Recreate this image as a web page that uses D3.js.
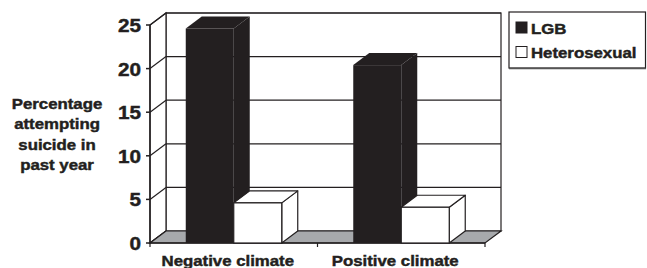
<!DOCTYPE html>
<html>
<head>
<meta charset="utf-8">
<script src="https://cdn.jsdelivr.net/npm/d3@7"></script>
<style>
  body { margin: 0; background: #fff; }
  text { font-family: "Liberation Sans", Arial, sans-serif; font-weight: bold; fill: #231f20;
         stroke: #231f20; stroke-width: 0.45px; }
</style>
</head>
<body>
<div id="chart"></div>
<script>
// data
const categories = ["Negative climate", "Positive climate"];
const seriesNames = ["LGB", "Heterosexual"];
const lgbValues = [24.6, 20.4];
const heteroValues = [4.6, 4.1];
const yTicks = [0, 5, 10, 15, 20, 25];
const yTitle = ["Percentage", "attempting", "suicide in", "past year"];

const W = 647, H = 268;
const dx = 16, dy = -12;      // 3d depth offset
const sx = 1.12;              // horizontal stretch of the text
const dark = "#231f20", floorGrey = "#a7a9ac";

const svg = d3.select("#chart").append("svg")
    .attr("width", W).attr("height", H);

// scales
const x = d3.scaleBand().domain(categories).range([150, 485]);
const xs = d3.scaleBand().domain(seriesNames).range([0, x.bandwidth()]).paddingOuter(0.745);
const y = d3.scaleLinear().domain([0, 25]).range([243, 25]);

const x0 = x.range()[0], x1 = x.range()[1];
const yTop = y(25), yBot = y(0);

// back wall
svg.append("rect")
    .attr("x", x0 + dx).attr("y", yTop + dy)
    .attr("width", x1 - x0).attr("height", yBot - yTop)
    .attr("fill", "#fff").attr("stroke", dark).attr("stroke-width", 1.2);
svg.append("g").selectAll("line").data(yTicks.slice(1)).join("line")
    .attr("x1", x0 + dx).attr("x2", x1 + dx)
    .attr("y1", d => y(d) + dy).attr("y2", d => y(d) + dy)
    .attr("stroke", dark).attr("stroke-width", 1.2);

// left side wall
svg.append("polygon")
    .attr("points", [[x0, yBot], [x0 + dx, yBot + dy], [x0 + dx, yTop + dy], [x0, yTop]].join(" "))
    .attr("fill", "#fff").attr("stroke", dark).attr("stroke-width", 1.2);
svg.append("g").selectAll("line").data(yTicks).join("line")
    .attr("x1", x0).attr("x2", x0 + dx)
    .attr("y1", d => y(d)).attr("y2", d => y(d) + dy)
    .attr("stroke", dark).attr("stroke-width", 1.2);

// floor
svg.append("polygon")
    .attr("points", [[x0, yBot], [x1, yBot], [x1 + dx, yBot + dy], [x0 + dx, yBot + dy]].join(" "))
    .attr("fill", floorGrey).attr("stroke", dark).attr("stroke-width", 1.2);

// front axis + ticks
svg.append("line").attr("x1", x0).attr("x2", x0).attr("y1", yTop).attr("y2", yBot)
    .attr("stroke", dark).attr("stroke-width", 1.5);
svg.append("g").selectAll("line").data(yTicks).join("line")
    .attr("x1", x0 - 4).attr("x2", x0)
    .attr("y1", d => y(d)).attr("y2", d => y(d))
    .attr("stroke", dark).attr("stroke-width", 1.5);
svg.append("line").attr("x1", x0).attr("x2", x1).attr("y1", yBot).attr("y2", yBot)
    .attr("stroke", dark).attr("stroke-width", 1.5);
svg.append("g").selectAll("line").data(categories.map(c => x(c)).concat([x1])).join("line")
    .attr("x1", d => d).attr("x2", d => d)
    .attr("y1", yBot).attr("y2", yBot + 4)
    .attr("stroke", dark).attr("stroke-width", 1.2);

// bars
function bar(g, cat, ser, val, fill) {
    const bx = x(cat) + xs(ser), bw = xs.bandwidth(), by = y(val);
    const line = fill === "#fff" ? dark : "none";
    // side
    g.append("polygon")
        .attr("points", [[bx + bw, by], [bx + bw + dx, by + dy], [bx + bw + dx, yBot + dy], [bx + bw, yBot]].join(" "))
        .attr("fill", fill).attr("stroke", line).attr("stroke-width", 1.2).attr("stroke-linejoin", "round");
    // top
    g.append("polygon")
        .attr("points", [[bx, by], [bx + dx, by + dy], [bx + bw + dx, by + dy], [bx + bw, by]].join(" "))
        .attr("fill", fill).attr("stroke", line).attr("stroke-width", 1.2).attr("stroke-linejoin", "round");
    // front
    g.append("rect")
        .attr("x", bx).attr("y", by).attr("width", bw).attr("height", yBot - by)
        .attr("fill", fill).attr("stroke", line).attr("stroke-width", 1.2);
}
const bars = svg.append("g");
categories.forEach((c, i) => {
    bar(bars, c, "LGB", lgbValues[i], dark);
    bar(bars, c, "Heterosexual", heteroValues[i], "#fff");
});

// y tick labels
svg.append("g").selectAll("text").data(yTicks).join("text")
    .attr("transform", d => `translate(${x0 - 9},${y(d) + 7}) scale(${sx},1)`)
    .attr("text-anchor", "end")
    .style("font-size", "18.5px")
    .text(d => d);

// category labels
svg.append("g").selectAll("text").data(categories).join("text")
    .attr("transform", d => `translate(${x(d) + x.bandwidth() / 2 - 6},265.5) scale(${sx},1)`)
    .attr("text-anchor", "middle")
    .style("font-size", "15px")
    .text(d => d);

// y title
svg.append("g").selectAll("text").data(yTitle).join("text")
    .attr("transform", (d, i) => `translate(57,${108.5 + i * 20.5}) scale(${sx},1)`)
    .attr("text-anchor", "middle")
    .style("font-size", "15px")
    .text(d => d);

// legend
const legend = svg.append("g");
legend.append("rect")
    .attr("x", 509).attr("y", 12).attr("width", 136.5).attr("height", 56)
    .attr("fill", "#fff").attr("stroke", dark).attr("stroke-width", 1.2);
legend.append("line").attr("x1", 509).attr("x2", 646).attr("y1", 68.5).attr("y2", 68.5)
    .attr("stroke", "#555").attr("stroke-width", 1.5);
const legendFill = [dark, "#fff"];
seriesNames.forEach((s, i) => {
    legend.append("rect")
        .attr("x", 516).attr("y", 22 + i * 24.5).attr("width", 11).attr("height", 11)
        .attr("fill", legendFill[i]).attr("stroke", dark).attr("stroke-width", 1);
    legend.append("text")
        .attr("transform", `translate(531,${33.5 + i * 24.5}) scale(${sx},1)`)
        .style("font-size", "15px")
        .text(s);
});
</script>
</body>
</html>
